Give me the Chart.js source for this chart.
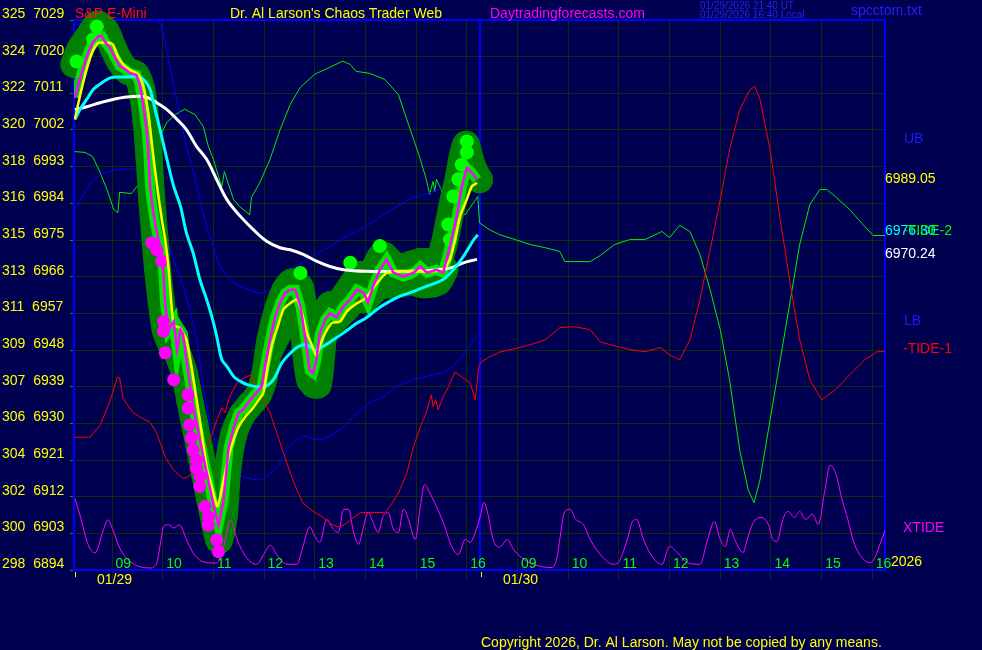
<!DOCTYPE html>
<html>
<head>
<meta charset="utf-8">
<title>S&amp;P E-Mini - Chaos Trader Web</title>
<script src="https://cdn.jsdelivr.net/npm/chart.js@4.4.1/dist/chart.umd.min.js"></script>
<style>
  body { margin: 0; background: #000050; }
  canvas { display: block; }
</style>
</head>
<body>
<canvas id="chaosChart" width="982" height="650"></canvas>
<script>
// x = minutes from 08:15 on 01/29, the 01/30 session starts at 480
const hourLabels = ['09', '10', '11', '12', '13', '14', '15', '16'];
const dayLabels = ['01/29', '01/30'];
const spyLabels = [325, 324, 322, 320, 318, 316, 315, 313, 311, 309, 307, 306, 304, 302, 300, 298];

// price (magenta)
const priceT = [1,7,15,22,29,33,37,43,48,54,60,66,74,78,82,86,88,90,93,96,100,104,106,108,112,118,122,126,129,133,137,141,147,153,159,165,171,177,183,189,195,200,206,212,216,222,226,232,238,244,250,256,262,268,273,279,283,287,291,297,303,311,319,327,335,343,348,354,362,370,378,390,402,410,418,429,437,445,453,459,465,471,477];
const priceV = [7010,7014.5,7020,7023.5,7025,7025,7023.5,7022,7020,7017.7,7017,7016,7015.5,7013,7008,7002,6996.5,6988,6983,6979,6975,6972,6966,6959,6953,6955,6948,6953,6952,6945.6,6940,6934,6928,6922,6916,6910,6905,6911,6924,6929,6932.6,6933.3,6935,6936.6,6937.5,6939,6944,6950.5,6956,6959.6,6962,6962.8,6962.8,6958.7,6952,6943,6942.4,6945.6,6952,6955.4,6957,6956,6958.7,6960.4,6962.8,6962,6959.6,6963.6,6967.7,6970.2,6967,6966,6967,6968.5,6967,6967.7,6967,6973.5,6980.8,6988,6992.7,6991.5,6989.8];

// fast average (yellow)
const fastT = [1,7,15,23,29,39,46,52,60,68,76,82,88,92,96,100,104,108,112,118,125,133,139,145,151,157,163,170,177,183,189,195,203,210,216,224,228,234,240,248,256,264,270,276,282,287,291,297,305,315,323,335,343,347,359,370,386,406,425,437,445,451,457,465,471,477];
const fastV = [7004.6,7010.3,7017,7021.8,7023.4,7023.4,7023,7020,7017.7,7016.5,7015.7,7012.8,7006,6999,6992,6985.7,6980,6975,6968,6954,6953.5,6950.5,6944,6936,6928,6919.4,6914.5,6909.6,6916,6921.8,6926,6929.2,6931.7,6933.3,6935,6937.4,6942.3,6949,6953,6958,6959.5,6960.4,6957,6952,6949,6946.4,6949,6952,6954.6,6955,6957.5,6959.5,6960.4,6961.2,6964.5,6966.9,6967.3,6967.3,6967.3,6967.7,6970.2,6975,6980.8,6985,6988.2,6989.05];

// average (cyan)
const avgT = [1,7,15,23,33,43,54,66,76,84,90,96,102,110,118,126,133,141,149,157,163,169,175,181,189,197,205,216,226,236,246,256,266,276,285,295,307,319,335,346,358,370,386,402,417,437,449,461,473,478];
const avgV = [7004.6,7007,7009.5,7012,7013.6,7014.8,7015,7015,7015.2,7014,7012,7007,7002,6994.8,6988.2,6983.3,6976.8,6971.8,6965.3,6960.4,6956.3,6951.3,6945.6,6944,6941.5,6940.3,6939.5,6939,6939,6940.7,6944.8,6947.2,6948.9,6949.3,6948,6948.9,6950.5,6952.2,6954.6,6955.9,6957.9,6959.5,6961.2,6962.4,6963.6,6965.3,6967.7,6971,6975,6976.30];

// slow average (white)
const slowT = [1,15,31,46,62,78,88,98,110,122,133,145,157,169,181,197,212,228,244,256,272,287,303,319,346,386,425,445,461,477];
const slowV = [7007,7007.7,7008.7,7009.5,7010.1,7010.3,7009.9,7008.7,7007,7004.6,7002.1,6998,6994.8,6989.8,6984.9,6980.8,6977.6,6974.7,6973.1,6972.6,6971.4,6969.8,6968.5,6967.7,6967.3,6967.3,6967.6,6968.1,6969.4,6970.24];

// bands (blue)
const ubT = [1,15,43,78,100,110,118,125,133,141,149,157,165,173,189,204,224,244,264,283,303,323,346,370,398,421,441,459,478];
const ubV = [7027.4,7029.2,7035,7034,7029,7021,7012.8,7006.2,6998,6992.3,6984.9,6978.4,6973.5,6968.5,6964.5,6963,6962,6964.5,6968.5,6971,6973.5,6976,6978.4,6981.7,6985,6986.6,6988.2,6990.7,6992];
const lbT = [1,23,43,72,90,102,114,133,145,157,169,185,200,220,228,240,256,271,287,303,319,335,350,366,382,402,417,433,449,465,478];
const lbV = [6982.4,6989.8,6991.9,6992.3,6989.8,6981,6972.5,6961,6950.5,6934.2,6924.3,6918.6,6916.9,6916.1,6917,6919.4,6924.3,6926.8,6926,6926.8,6929.2,6932.5,6935,6936.6,6939,6940.7,6941.5,6942.3,6944,6948.1,6952];

// -TIDE-2 (green)
const tide2T = [1,13,22,31,39,47,52,54,68,78,90,100,110,120,131,143,153,159,165,171,175,178,181,189,196,208,210,220,232,244,256,268,285,303,318,327,334,350,368,384,394,402,410,417,421,425,427,429,433,441,449,463,478,480,492,504,522,540,558,575,581,611,623,640,658,676,688,696,705,717,729,741,753,765,776,788,798,805,812,824,836,848,859,871,883,891,901,918,933,946,960];
const tide2V = [6996.7,6996.5,6995.5,6991.5,6987.4,6982.5,6981.7,6986.7,6986.4,6989.1,6994,6999.7,7003.9,7005.8,7007.1,7005.8,7002.9,6998,6994.8,6990.6,6988.1,6991.8,6989.8,6984.9,6983.2,6981.2,6985.4,6989.1,6994.8,7002.1,7008.3,7012.5,7015.7,7017.4,7018.9,7018.1,7016.4,7015.9,7014.4,7010.7,7004.6,6999.7,6994.8,6989.9,6986.2,6989.4,6986.9,6989.9,6988.1,6984.2,6981.7,6981.2,6985.7,6979.2,6977.5,6976.3,6975.1,6973.9,6973.1,6972.2,6969.7,6969.7,6971.2,6973.9,6975.1,6975.1,6976.3,6977.1,6975.6,6978.6,6977.1,6971.4,6962.8,6953,6940.7,6923.5,6913.7,6910.5,6916.1,6930.9,6945.6,6960.4,6973.9,6983.7,6987.4,6987.4,6985.7,6982.5,6979,6976.1,6976.1];

// -TIDE-1 (red)
const tide1T = [1,19,31,43,51,54,58,69,80,90,98,108,118,129,135,145,153,161,169,175,179,183,187,194,204,210,212,216,224,232,240,248,256,264,271,283,295,305,313,321,331,339,368,374,384,394,402,410,417,423,425,428,431,437,443,451,459,469,475,479,482,492,504,522,540,558,575,593,611,623,640,658,676,694,705,717,729,741,753,765,776,788,800,806,812,824,836,848,859,871,885,901,918,936,951,960];
const tide1V = [6926.6,6926.6,6929.6,6935.7,6941.2,6941.2,6936.2,6932.8,6931.3,6930.3,6927.6,6921.7,6918.5,6916.5,6916.8,6919.2,6922.7,6925.9,6930.8,6933.8,6932.6,6935.8,6937.7,6940.2,6941.4,6941.9,6940.7,6937.5,6935.8,6932.6,6927.7,6922.7,6917.8,6913.6,6910.4,6908.4,6906.9,6905.2,6904.5,6905.2,6906.9,6908.1,6908.1,6909.6,6912.9,6917.8,6924.3,6929.2,6932.6,6937,6934.1,6935.8,6933.3,6936.5,6938.9,6942.6,6941.4,6939.9,6935.8,6943.9,6945.1,6946.3,6947.5,6948.3,6949.3,6950.5,6953.5,6953.7,6953,6950,6949,6948.1,6947.6,6948.6,6946.8,6945.6,6950.5,6960.4,6972.6,6984.9,6997.2,7007,7011.9,7012.7,7009.5,6997.2,6980,6964,6950.5,6940.7,6935.8,6938.2,6941.9,6945.6,6947.6,6947.6];

// XTIDE (magenta, bottom)
const xtideT = [1,7,17,25,34,40,46,54,69,90,98,102,106,112,118,125,133,141,153,169,177,185,193,204,216,226,232,240,252,264,271,279,285,291,299,307,313,319,325,331,337,342,348,354,360,366,372,378,384,390,396,404,410,415,421,429,437,447,455,463,469,475,481,485,490,496,504,513,520,536,552,566,572,575,581,587,594,603,611,626,638,644,655,661,666,674,685,696,705,714,726,741,750,758,765,771,777,782,792,797,803,812,822,827,832,839,845,853,859,866,874,881,889,895,902,909,916,922,930,942,947,954,960];
const xtideV = [6911.6,6907.5,6900.1,6898.2,6903.3,6906.3,6903.9,6899.4,6895.7,6894.5,6895.7,6900.1,6904.6,6905.1,6904.3,6905.1,6901.5,6898.2,6896,6895.7,6899.6,6906.3,6901.5,6897.1,6895.4,6898.3,6900.1,6897.8,6895.4,6895.4,6899.8,6904.6,6902.3,6900.8,6906.4,6904,6903.2,6908.9,6908.9,6903.2,6900.3,6904,6908.1,6905.7,6903.2,6907.2,6908.1,6904,6903.2,6908.9,6906.4,6901.5,6909.6,6915,6913,6909.6,6905.7,6899.8,6897.8,6901.5,6900.8,6903.2,6907.2,6910.6,6907.7,6901.5,6899.6,6901.5,6899.1,6896.1,6894.9,6894.6,6897.3,6901.5,6908.4,6908.9,6906.4,6905.2,6901.5,6897.1,6895.4,6895.8,6901.5,6905.9,6906.4,6901.5,6897.1,6895.4,6899.8,6898.3,6895.8,6895.4,6901.5,6905.9,6901.5,6899.8,6904,6901.5,6898.3,6901.5,6905.2,6906.9,6905.2,6901.5,6901,6906.4,6908.4,6906.9,6908.4,6906.4,6907.7,6905.2,6913.8,6919.7,6917.5,6911.4,6906.4,6901.5,6897.8,6895.8,6896.6,6900.3,6903.7];

// dark green glow round the bars (upper and lower edge of the range)
const glowT = [0,7,19,28,38,46,54,64,73,80,85,89,92,96,99,103,108,115,123,131,137,143,149,155,161,167,172,178,182,189,199,208,218,225,232,241,250,258,268,273,279,284,289,294,303,313,321,329,339,348,356,365,374,386,398,410,421,431,438,443,449,455,459,464,469,476,480];
const glowV = [7018.1,7021.8,7025.5,7028,7026.2,7022.3,7018.9,7016.4,7015.7,7012,7004.6,6994.8,6985,6975.1,6967.7,6960.4,6953,6949.3,6946.8,6941.9,6935.7,6929.6,6923.5,6917.3,6911.1,6905,6901.3,6907.5,6918.6,6927.2,6932.1,6934.5,6937,6941.2,6950.5,6957.9,6962.8,6964.7,6963.3,6955.4,6945.6,6939.5,6945.6,6955.4,6959.1,6959.1,6961.6,6964,6966.5,6964.7,6968.2,6971.4,6969.7,6968.2,6969,6969.7,6969.7,6969.7,6973.9,6978.8,6984.9,6990.3,6994.8,6998.5,6994.8,6991.1,6989.8];
const glowLowT = [232,244,256,268,279,289,297,309,321,333,344,356,368,380,398,415,431,439];
const glowLowV = [6948,6953,6957.9,6956.7,6940.7,6939.5,6953,6955.4,6957.9,6960.4,6960.4,6962.8,6964,6964,6964.7,6964,6964.7,6967.7];

// bright green and magenta markers
const limeT = [3,23,27,268,327,362,443,445,449,455,459,465,465];
const limeV = [7018.8,7024.3,7027.4,6966.9,6969.4,6973.5,6978.8,6975.1,6985.7,6989.9,6993.5,6996.5,6999.2];
const pinkT = [92,98,104,106,106,108,118,135,135,137,139,141,145,145,149,149,155,159,159,169,171];
const pinkV = [6974.3,6972.6,6969.8,6955,6952.6,6947.3,6940.7,6937,6933.7,6929.6,6926.4,6923.5,6921,6919,6917,6914.5,6909.6,6907.1,6905,6901.4,6898.5];

const hourTicks = [0, 1].flatMap(d => hourLabels.map(h => d * 480 + (Number(h) - 8.25) * 60));
const fontFamily = '"Liberation Sans", Arial, sans-serif';
const gridColor = '#0c2c0c';

function pts(ts, vs) {
    return ts.map((t, i) => ({ x: t, y: vs[i] }));
}

function lineSet(ts, vs, color, width, extra) {
    return Object.assign({
        data: pts(ts, vs),
        showLine: true,
        borderColor: color,
        borderWidth: width,
        pointRadius: 0,
        pointHoverRadius: 0,
        tension: 0,
        fill: false
    }, extra || {});
}

function dotSet(ts, vs, color, r) {
    return {
        data: pts(ts, vs),
        showLine: false,
        pointRadius: r,
        pointHoverRadius: r,
        pointBackgroundColor: color,
        pointBorderWidth: 0,
        clip: 20
    };
}

function glowSet(ts, vs) {
    return lineSet(ts, vs, '#008000', 27, {
        tension: 0.3,
        borderCapStyle: 'round',
        borderJoinStyle: 'round',
        pointRadius: 13.5,
        pointBackgroundColor: '#008000',
        pointBorderWidth: 0,
        clip: 20
    });
}

function txt(ctx, s, x, y, color, size) {
    ctx.font = size + 'px ' + fontFamily;
    ctx.fillStyle = color;
    ctx.textAlign = 'left';
    ctx.textBaseline = 'alphabetic';
    ctx.fillText(s, x, y);
}

// Fond, cadre et textes
const chaosDecor = {
    id: 'chaosDecor',
    beforeDraw(chart) {
        const ctx = chart.ctx;
        ctx.save();
        ctx.fillStyle = '#000050';
        ctx.fillRect(0, 0, chart.width, chart.height);
        ctx.restore();
    },
    beforeDatasetsDraw(chart) {
        const { ctx, chartArea: a, scales: { x } } = chart;
        ctx.save();
        ctx.strokeStyle = '#0000ff';
        ctx.lineWidth = 2;
        ctx.strokeRect(a.left, a.top, a.right - a.left, a.bottom - a.top);
        const mid = Math.round(x.getPixelForValue(480));
        ctx.beginPath();
        ctx.moveTo(mid, a.top);
        ctx.lineTo(mid, a.bottom);
        ctx.stroke();
        ctx.restore();
    },
    afterDraw(chart) {
        const { ctx, chartArea: a, scales: { x, y } } = chart;
        ctx.save();
        // header
        txt(ctx, 'S&P E-Mini', 75, 18, '#ff1010', 14);
        txt(ctx, "Dr. Al Larson's Chaos Trader Web", 230, 18, '#ffff00', 14);
        txt(ctx, 'Daytradingforecasts.com', 490, 18, '#ff00ff', 14);
        txt(ctx, '01/29/2026 21:40 UT', 700, 9, '#2020ff', 10);
        txt(ctx, '01/29/2026 16:40 Local', 700, 18, '#2020ff', 10);
        txt(ctx, 'spcctom.txt', 851, 15, '#2020ff', 14);

        // hour and day labels
        hourTicks.forEach((t, i) => {
            txt(ctx, hourLabels[i % hourLabels.length], x.getPixelForValue(t) + 3.5, a.bottom - 2, '#00ff00', 14);
        });
        dayLabels.forEach((d, i) => {
            const px = Math.round(x.getPixelForValue(i * 480)) + 1;
            ctx.strokeStyle = '#ffff00';
            ctx.lineWidth = 1;
            ctx.beginPath();
            ctx.moveTo(px + 0.5, a.bottom + 2);
            ctx.lineTo(px + 0.5, a.bottom + 7);
            ctx.stroke();
            txt(ctx, d, px + 22, a.bottom + 14, '#ffff00', 14);
        });

        // right side labels
        const rx = a.right;
        txt(ctx, 'UB', rx + 19, 143, '#1a1aff', 14);
        txt(ctx, fastV[fastV.length - 1].toFixed(2), rx, y.getPixelForValue(fastV[fastV.length - 1]), '#ffff00', 14);
        txt(ctx, avgV[avgV.length - 1].toFixed(2), rx, y.getPixelForValue(avgV[avgV.length - 1]), '#00ffff', 14);
        txt(ctx, '-TIDE-2', rx + 18, y.getPixelForValue(avgV[avgV.length - 1]), '#00ff00', 14);
        txt(ctx, slowV[slowV.length - 1].toFixed(2), rx, y.getPixelForValue(slowV[slowV.length - 1]) - 1, '#ffffff', 14);
        txt(ctx, 'LB', rx + 19, 325, '#1a1aff', 14);
        txt(ctx, '-TIDE-1', rx + 18, 353, '#ff0000', 14);
        txt(ctx, 'XTIDE', rx + 18, 532, '#ff00ff', 14);
        txt(ctx, '2026', rx + 6, 566, '#ffff00', 14);

        txt(ctx, 'Copyright 2026, Dr. Al Larson. May not be copied by any means.', 481, 647, '#ffff00', 14);
        ctx.restore();
    }
};

new Chart(document.getElementById('chaosChart').getContext('2d'), {
    type: 'scatter',
    data: {
        datasets: [
            lineSet(priceT, priceV, '#ff00ff', 2.5),
            lineSet(fastT, fastV, '#ffff00', 2.5, { tension: 0.2 }),
            dotSet(pinkT, pinkV, '#ff00ff', 6.5),
            lineSet(avgT, avgV, '#00ffff', 3, { tension: 0.3 }),
            lineSet(slowT, slowV, '#ffffff', 3, { tension: 0.4 }),
            dotSet(limeT, limeV, '#00ff00', 7),
            lineSet(priceT, priceV, 'rgba(0,255,0,0.8)', 10),
            lineSet(tide1T, tide1V, '#ff0000', 1),
            lineSet(xtideT, xtideV, '#ff00ff', 1, { cubicInterpolationMode: 'monotone' }),
            glowSet(glowT, glowV),
            glowSet(glowLowT, glowLowV),
            lineSet(ubT, ubV, '#0000ff', 1, { tension: 0.3 }),
            lineSet(lbT, lbV, '#0000ff', 1, { tension: 0.3 }),
            lineSet(tide2T, tide2V, '#00ee00', 1)
        ]
    },
    options: {
        responsive: false,
        animation: false,
        events: [],
        layout: { padding: { left: 2, top: 20, right: 97, bottom: 68 } },
        plugins: {
            legend: { display: false },
            tooltip: { enabled: false }
        },
        scales: {
            x: {
                type: 'linear',
                min: 0,
                max: 960,
                afterBuildTicks: (scale) => { scale.ticks = hourTicks.map(v => ({ value: v })); },
                afterFit: (scale) => { scale.height = 12; },
                ticks: { display: false },
                grid: { color: gridColor, tickColor: gridColor, tickLength: 10 },
                border: { display: false }
            },
            y: {
                type: 'linear',
                min: 6894,
                max: 7029,
                afterFit: (scale) => { scale.width = 72; },
                ticks: {
                    stepSize: 9,
                    color: '#ffff00',
                    font: { family: fontFamily, size: 14 },
                    crossAlign: 'far',
                    labelOffset: -6,
                    autoSkip: false,
                    callback: (value, index) => spyLabels[spyLabels.length - 1 - index] + '  ' + value
                },
                grid: { color: gridColor, tickColor: '#00a000', tickLength: 4 },
                border: { display: false }
            }
        }
    },
    plugins: [chaosDecor]
});
</script>
</body>
</html>
